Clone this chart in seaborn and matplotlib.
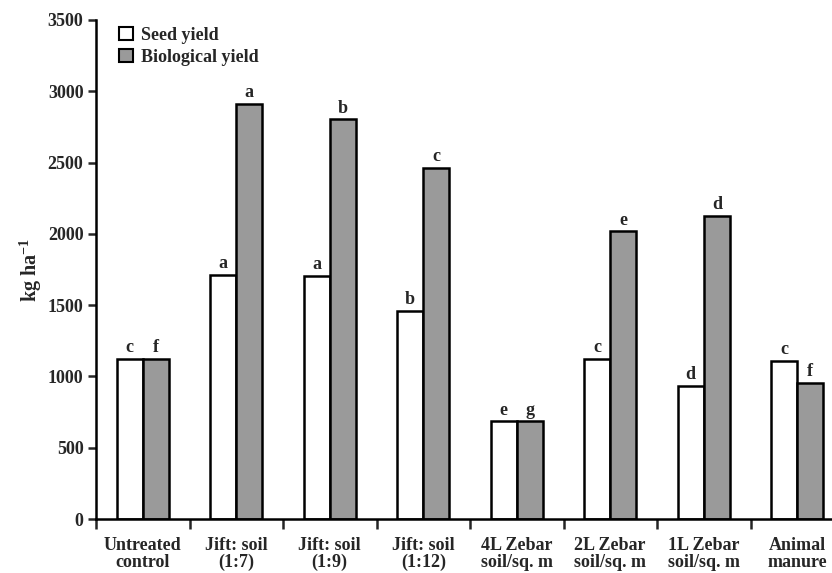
import numpy as np
import pandas as pd
import matplotlib
matplotlib.use("Agg")
import matplotlib.pyplot as plt
from matplotlib.patches import Patch
import seaborn as sns

# Treatments along the x axis
treatments = [
    "Untreated\ncontrol",
    "Jift: soil\n(1:7)",
    "Jift: soil\n(1:9)",
    "Jift: soil\n(1:12)",
    "4L Zebar\nsoil/sq. m",
    "2L Zebar\nsoil/sq. m",
    "1L Zebar\nsoil/sq. m",
    "Animal\nmanure",
]

# Yields (kg/ha)
seed_yield = [1125, 1710, 1703, 1460, 685, 1125, 935, 1110]
biological_yield = [1125, 2912, 2803, 2460, 685, 2018, 2125, 955]

# Mean separation letters
seed_letters = ["c", "a", "a", "b", "e", "c", "d", "c"]
bio_letters = ["f", "a", "b", "c", "g", "e", "d", "f"]

series_names = ["Seed yield", "Biological yield"]
y_ticks = [0, 500, 1000, 1500, 2000, 2500, 3000, 3500]

df = pd.DataFrame({
    "treatment": treatments * 2,
    "series": [series_names[0]] * len(treatments) + [series_names[1]] * len(treatments),
    "value": seed_yield + biological_yield,
})

sns.set_style("white")
plt.rcParams["font.family"] = ["Liberation Serif", "DejaVu Serif"]
plt.rcParams["font.weight"] = "bold"
plt.rcParams["mathtext.fontset"] = "custom"
plt.rcParams["mathtext.rm"] = "Liberation Serif:bold"
plt.rcParams["mathtext.bf"] = "Liberation Serif:bold"
plt.rcParams["mathtext.default"] = "bf"

fig = plt.figure(figsize=(8.32, 5.73), dpi=100)
ax = fig.add_axes([96 / 832, (573 - 519) / 573, 748 / 832, 499 / 573])

colors = ["white", "#9a9a9a"]
sns.barplot(
    data=df, x="treatment", y="value", hue="series",
    order=treatments, hue_order=series_names,
    palette=colors, saturation=1, width=0.56, gap=0,
    edgecolor="black", linewidth=1.8, errorbar=None, legend=False, ax=ax,
)

fs = 13
for cont, letters in zip(ax.containers, [seed_letters, bio_letters]):
    ax.bar_label(cont, labels=letters, padding=2, fontsize=fs, fontweight="bold")

ax.set_xlim(-0.5, 7.5)
ax.set_ylim(0, 3500)
ax.set_yticks(y_ticks)
ax.set_yticklabels([str(t) for t in y_ticks], fontsize=fs, fontweight="bold")
ax.set_xticks(range(len(treatments)))
ax.set_xticklabels(treatments, fontsize=fs, fontweight="bold", linespacing=1.0)
ax.set_xticks(np.arange(-0.5, len(treatments), 1), minor=True)
ax.tick_params(axis="x", which="major", length=0, pad=13)
ax.tick_params(axis="x", which="minor", length=7, width=1.8, direction="out", bottom=True)
ax.tick_params(axis="y", length=6, width=1.8, direction="out", left=True, pad=3)

ax.set_xlabel("")
ax.set_ylabel(r"kg ha$^{-1}$", fontsize=14.5, fontweight="bold", labelpad=3)

for side in ["top", "right"]:
    ax.spines[side].set_visible(False)
for side in ["left", "bottom"]:
    ax.spines[side].set_linewidth(1.8)
    ax.spines[side].set_color("black")

handles = [Patch(facecolor=c, edgecolor="black", linewidth=1.5) for c in colors]
ax.legend(
    handles, series_names, loc="upper left",
    bbox_to_anchor=(110 / 832, 1 - 18 / 573), bbox_transform=fig.transFigure,
    frameon=False, handlelength=0.75, handleheight=0.75, handletextpad=0.45,
    labelspacing=0.25, borderpad=0, prop={"size": fs, "weight": "bold"},
)

fig.savefig("out.png", dpi=100)
